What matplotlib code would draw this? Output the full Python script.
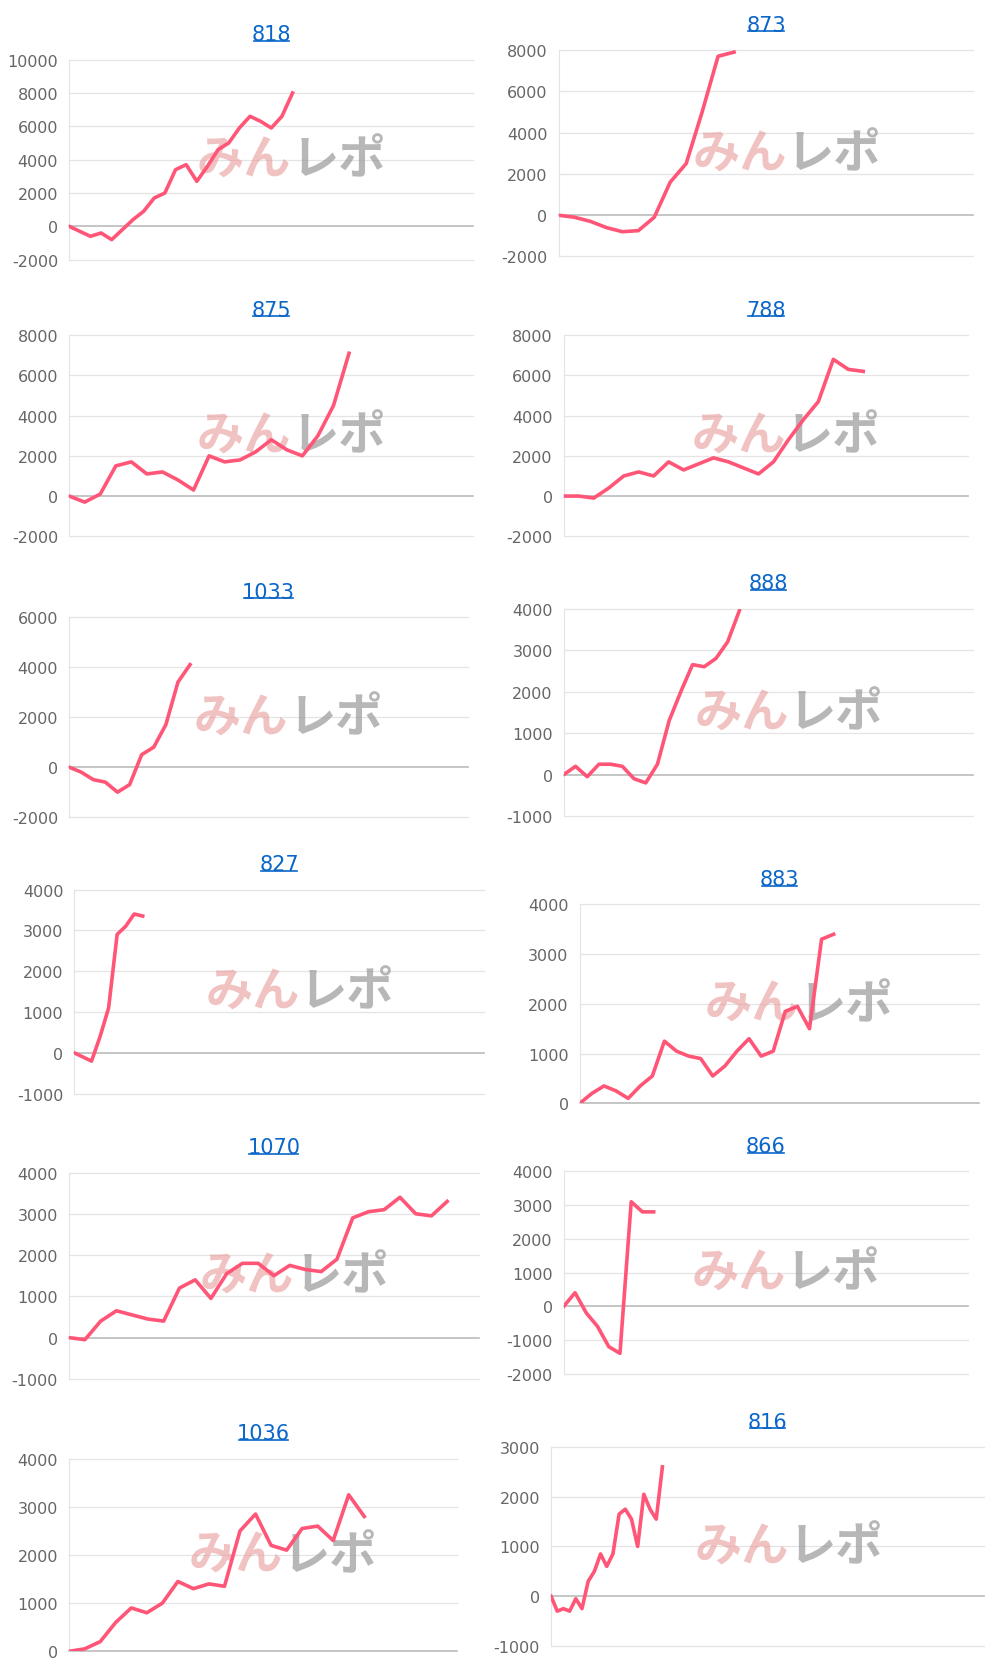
import matplotlib
matplotlib.use("Agg")
import matplotlib.pyplot as plt
plt.rcParams['axes.unicode_minus'] = False

titles = ["818","873","875","788","1033","888","827","883","1070","866","1036","816"]
values = [
 [0,-300,-600,-400,-800,-200,400,900,1700,2000,3400,3700,2700,3600,4600,5000,5900,6600,6300,5900,6600,8000],
 [0,-100,-300,-600,-800,-750,-100,1600,2500,5000,7700,7900],
 [0,-300,100,1500,1700,1100,1200,800,300,2000,1700,1800,2200,2800,2300,2000,3000,4500,7100],
 [0,0,-100,400,1000,1200,1000,1700,1300,1600,1900,1700,1400,1100,1700,2800,3800,4700,6800,6300,6200],
 [0,-200,-500,-600,-1000,-700,500,800,1700,3400,4100],
 [0,200,-50,250,250,200,-100,-200,250,1300,2000,2650,2600,2800,3200,3950],
 [0,-100,-200,400,1100,2900,3100,3400,3350],
 [0,200,350,250,100,350,550,1250,1050,950,900,550,750,1050,1300,950,1050,1850,1950,1500,3300,3400],
 [0,-50,400,650,550,450,400,1200,1400,950,1550,1800,1800,1500,1750,1650,1600,1900,2900,3050,3100,3400,3000,2950,3300],
 [0,400,-200,-600,-1200,-1400,3100,2800,2800],
 [0,50,200,600,900,800,1000,1450,1300,1400,1350,2500,2850,2200,2100,2550,2600,2300,3250,2800],
 [0,-300,-250,-300,-50,-250,300,500,850,600,850,1650,1750,1550,1000,2050,1750,1550,2600],
]
xslots = [38,26,26,27,33,35,48,33,26,36,25,70]
yranges = [(-2000,10000,2000),(-2000,8000,2000),(-2000,8000,2000),(-2000,8000,2000),
           (-2000,6000,2000),(-1000,4000,1000),(-1000,4000,1000),(0,4000,1000),
           (-1000,4000,1000),(-2000,4000,1000),(0,4000,1000),(-1000,3000,1000)]
boxes = [(65,445,57,245),(525,915,48,242),(65,445,316,505),(530,910,316,505),
         (65,440,581,769),(530,915,573,768),(70,455,837,1029),(545,920,851,1038),
         (65,450,1103,1297),(530,910,1102,1292),(65,430,1372,1553),(518,925,1361,1548)]
W,H = 940,1580
fig = plt.figure(figsize=(10,16.81), dpi=100)
for i in range(12):
    l,r,t,b = boxes[i]
    ax = fig.add_axes([l/W, 1-b/H, (r-l)/W, (b-t)/H])
    lo,hi,st = yranges[i]
    ax.set_ylim(lo,hi); ax.set_xlim(0,xslots[i])
    ticks = list(range(lo,hi+1,st))
    ax.set_yticks(ticks)
    ax.tick_params(axis='y', length=0, labelsize=11.5, labelcolor='#666666', pad=8)
    ax.set_xticks([])
    for tk in ticks:
        ax.axhline(tk, color='#bbbbbb' if tk==0 else '#e4e4e4', lw=1.2 if tk==0 else 0.9,
                   zorder=0, clip_on=False)
    for s in ['top','right','bottom']: ax.spines[s].set_visible(False)
    ax.spines['left'].set_color('#e4e4e4')
    ax.text(0.55, 0.5, "みん", transform=ax.transAxes, ha='right', va='center', fontsize=34,
            family=['Noto Sans CJK JP','DejaVu Sans'], fontweight='bold', style='italic', color='#e99a9a', alpha=0.6, zorder=1)
    ax.text(0.55, 0.5, "レポ", transform=ax.transAxes, ha='left', va='center', fontsize=34,
            family=['Noto Sans CJK JP','DejaVu Sans'], fontweight='bold', style='italic', color='#999999', alpha=0.7, zorder=1)
    ax.plot(range(len(values[i])), values[i], color='#ff5577', lw=2.6, zorder=3)
    ax.set_title(titles[i], color='#0a66c8', fontsize=15, pad=14)
fig.canvas.draw()
inv = fig.transFigure.inverted()
for ax in fig.axes:
    bb = ax.title.get_window_extent()
    (x0,y0),(x1,y1) = inv.transform([(bb.x0,bb.y0),(bb.x1,bb.y1)])
    fig.add_artist(plt.Line2D([x0+0.002,x1-0.002],[y0+0.002,y0+0.002], color='#0a66c8', lw=1.2))
fig.savefig("out.png", dpi=100)
